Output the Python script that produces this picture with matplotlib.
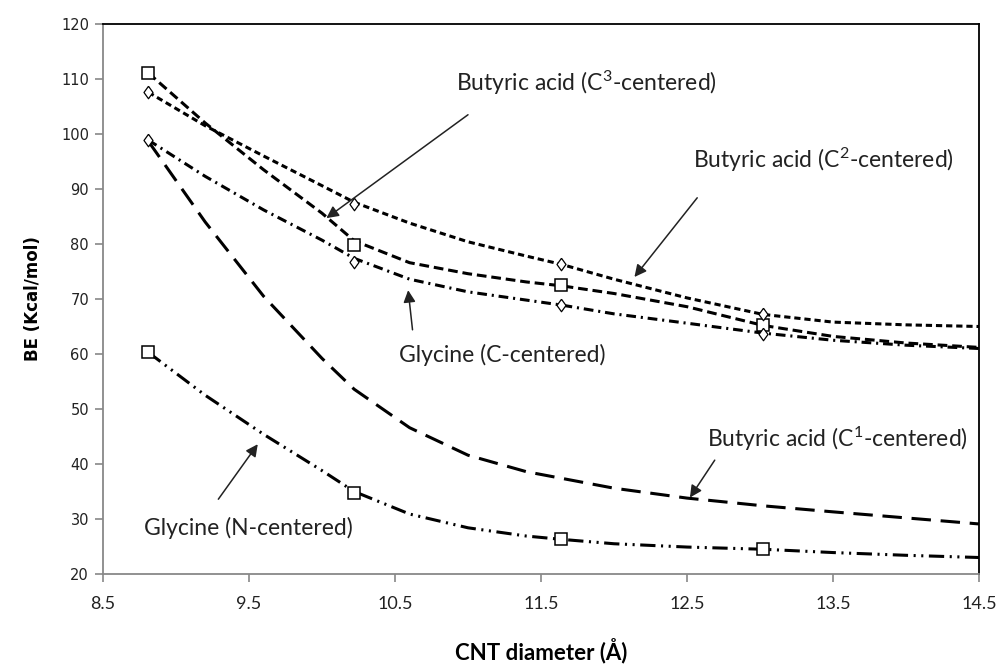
import matplotlib
matplotlib.use("Agg")
import matplotlib.pyplot as plt

plt.rcParams['lines.scale_dashes'] = False
plt.rcParams['mathtext.fontset'] = 'custom'
plt.rcParams['mathtext.rm'] = 'Lato'
plt.rcParams['mathtext.it'] = 'Lato:italic'
plt.rcParams['mathtext.bf'] = 'Lato:bold'
plt.rcParams['mathtext.default'] = 'rm'

# ---- data ----
x_pts = [8.81, 10.22, 11.64, 13.02]

# Butyric acid (C3-centered): squares, dashed
c3_pts = [111.1, 79.8, 72.5, 65.3]
# Butyric acid (C2-centered): diamonds, short dashed
c2_pts = [107.6, 87.3, 76.3, 67.3]
# Glycine (C-centered): diamonds, dash-dot
glyc_c_pts = [98.9, 76.7, 68.9, 63.6]
# Glycine (N-centered): squares, dash-dot-dot
glyc_n_pts = [60.3, 34.7, 26.3, 24.6]

# trend curves read along x
x_curve = [8.81, 9.2, 9.6, 10.0, 10.22, 10.6, 11.0, 11.4, 11.64, 12.0, 12.5, 13.02, 13.5, 14.0, 14.5]
c3_curve = [111.1, 102.0, 93.5, 85.6, 80.6, 76.6, 74.6, 73.1, 72.4, 71.0, 68.6, 65.2, 63.2, 62.0, 61.2]
c2_curve = [107.6, 101.5, 96.0, 90.6, 87.6, 83.8, 80.4, 77.8, 76.3, 73.6, 70.2, 67.2, 65.8, 65.3, 65.0]
glyc_c_curve = [98.9, 92.3, 86.2, 80.7, 77.4, 73.6, 71.3, 69.8, 68.9, 67.3, 65.6, 63.8, 62.5, 61.6, 61.0]
c1_curve = [98.7, 84.0, 70.5, 59.2, 53.6, 46.6, 41.6, 38.6, 37.4, 35.6, 33.8, 32.4, 31.3, 30.2, 29.1]
glyc_n_curve = [60.3, 52.5, 45.4, 38.8, 35.0, 30.9, 28.4, 26.9, 26.3, 25.5, 24.9, 24.5, 23.9, 23.4, 23.0]

x_ticks = [8.5, 9.5, 10.5, 11.5, 12.5, 13.5, 14.5]
y_ticks = [20, 30, 40, 50, 60, 70, 80, 90, 100, 110, 120]

fig = plt.figure(figsize=(9.98, 6.69), dpi=100)
ax = fig.add_axes([103/998, 1-574/669, (979-103)/998, (574-24)/669])

lw = 2.2
ax.plot(x_curve, c3_curve, color='black', lw=lw, dashes=(7, 3.5))
ax.plot(x_curve, c2_curve, color='black', lw=lw, dashes=(4.5, 2.8))
ax.plot(x_curve, glyc_c_curve, color='black', lw=lw, dashes=(7, 3.5, 1.5, 3.5))
ax.plot(x_curve, c1_curve, color='black', lw=lw, dashes=(14, 7))
ax.plot(x_curve, glyc_n_curve, color='black', lw=lw, dashes=(11, 4, 1.5, 4, 1.5, 4))

diamond = [(0, 1), (0.72, 0), (0, -1), (-0.72, 0), (0, 1)]
ax.plot(x_pts, c3_pts, 's', ms=8, mfc='white', mec='black', mew=1.1, ls='none')
ax.plot(x_pts, c2_pts, marker=diamond, ms=9, mfc='white', mec='black', mew=0.9, ls='none')
ax.plot(x_pts, glyc_c_pts, marker=diamond, ms=9, mfc='white', mec='black', mew=0.9, ls='none')
ax.plot(x_pts, glyc_n_pts, 's', ms=8, mfc='white', mec='black', mew=1.1, ls='none')

ax.set_xlim(8.5, 14.5)
ax.set_ylim(20, 120)
ax.set_xticks(x_ticks)
ax.set_xticklabels([str(t) for t in x_ticks], fontfamily='Lato', fontsize=13, color='#222222')
ax.set_yticks(y_ticks)
ax.set_yticklabels([str(t) for t in y_ticks], fontfamily='DejaVu Sans', fontsize=10.5, color='#222222')
ax.tick_params(axis='both', direction='out', length=6, color='#888888', width=1.2)
ax.tick_params(axis='x', pad=10)
ax.tick_params(axis='y', pad=4)
for s in ['left', 'bottom']:
    ax.spines[s].set_color('#888888')
    ax.spines[s].set_linewidth(1.3)
for s in ['top', 'right']:
    ax.spines[s].set_color('black')
    ax.spines[s].set_linewidth(1.3)

ax.set_ylabel('BE (Kcal/mol)', fontfamily='DejaVu Sans', fontweight='bold', fontsize=12, labelpad=14)
ax.set_xlabel('CNT diameter (Å)', fontfamily='Lato', fontweight='bold', fontsize=16, labelpad=18)

arrow = dict(arrowstyle='-|>', color='#222222', lw=1.1, mutation_scale=18, shrinkA=0, shrinkB=0)
tfont = dict(fontfamily='Lato', fontsize=16.5, color='#222222')

ax.annotate('', xy=(10.03, 84.7), xytext=(11.0, 103.5), arrowprops=arrow)
ax.text(10.92, 109.3, r'Butyric acid (C$^{3}$-centered)', ha='left', va='center', **tfont)

ax.annotate('', xy=(12.14, 74.0), xytext=(12.57, 88.4), arrowprops=arrow)
ax.text(12.54, 95.3, r'Butyric acid (C$^{2}$-centered)', ha='left', va='center', **tfont)

ax.annotate('', xy=(10.59, 71.6), xytext=(10.62, 64.4), arrowprops=arrow)
ax.text(10.53, 59.8, 'Glycine (C-centered)', ha='left', va='center', **tfont)

ax.annotate('', xy=(12.52, 33.9), xytext=(12.69, 40.7), arrowprops=arrow)
ax.text(12.64, 44.6, r'Butyric acid (C$^{1}$-centered)', ha='left', va='center', **tfont)

ax.annotate('', xy=(9.56, 43.6), xytext=(9.29, 33.6), arrowprops=arrow)
ax.text(8.78, 28.4, 'Glycine (N-centered)', ha='left', va='center', **tfont)

fig.savefig('out.png', dpi=100)
